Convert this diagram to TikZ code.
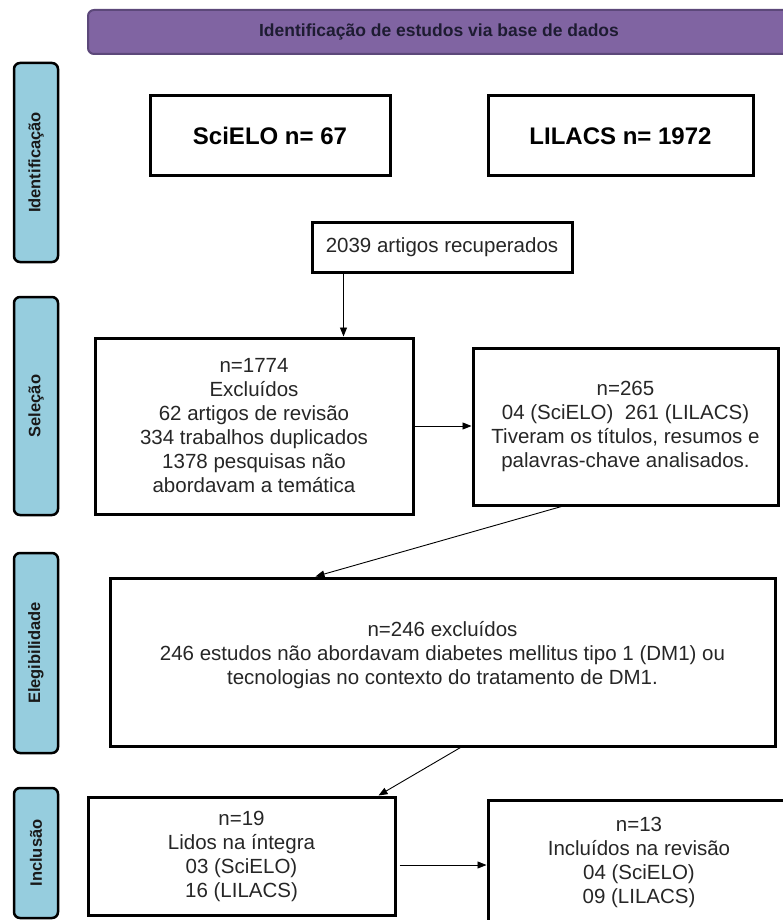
\documentclass[tikz,border=0pt]{standalone}
\usepackage{fontspec}
\setmainfont{Liberation Sans}
\usetikzlibrary{arrows.meta}

\definecolor{bannerfill}{RGB}{128,100,162}
\definecolor{bannerline}{RGB}{92,72,122}
\definecolor{bannertext}{RGB}{30,28,50}
\definecolor{phasefill}{RGB}{150,205,222}

\begin{document}
\begin{tikzpicture}[x=1pt,y=-1pt,
  box/.style={draw=black,line width=3pt,align=center,inner sep=0pt,text=black!85,
    font=\fontsize{20.5}{24}\selectfont},
  dbbox/.style={box,text=black,font=\bfseries\fontsize{24}{28}\selectfont},
  phase/.style={draw=black,line width=2.5pt,fill=phasefill,rounded corners=6pt,
    rotate=90,inner sep=0pt,minimum height=44pt,text=black!90,
    font=\bfseries\fontsize{16.5}{19}\selectfont},
  banner/.style={draw=bannerline,line width=2pt,fill=bannerfill,rounded corners=6pt,
    inner sep=0pt,text=bannertext,font=\bfseries\fontsize{17.5}{20}\selectfont},
  arr/.style={-{Triangle[length=9pt,width=7pt]},line width=0.9pt}]

  \useasboundingbox (0,0) rectangle (782,920);

  \node[banner, minimum width=702pt, minimum height=44pt] (head) at (439,32)
    {Identificação de estudos via base de dados};

  % fases
  \node[phase, minimum width=199pt] (idph) at (36,162.5) {Identificação};
  \node[phase, minimum width=218pt] (selph) at (36,406) {Seleção};
  \node[phase, minimum width=200pt] (elph) at (36,653) {Elegibilidade};
  \node[phase, minimum width=130pt] (incph) at (36,853) {Inclusão};

  % caixas
  \node[dbbox, minimum width=240pt, minimum height=80pt] (scielo) at (270,136) {SciELO n= 67};
  \node[dbbox, minimum width=265pt, minimum height=80pt] (lilacs) at (620.5,136) {LILACS n= 1972};

  \node[box, minimum width=260pt, minimum height=50pt] (rec) at (442,247) {2039 artigos recuperados};

  \node[box, minimum width=318pt, minimum height=176pt] (exc1) at (254,426)
    {n=1774\\ Excluídos\\ 62 artigos de revisão\\ 334 trabalhos duplicados\\
     1378 pesquisas não\\ abordavam a temática};
  \node[box, minimum width=305pt, minimum height=157pt] (sel) at (625.5,426.5)
    {n=265\\ 04 (SciELO)\ \ 261 (LILACS)\\ Tiveram os títulos, resumos e\\ palavras-chave analisados.};

  \node[box, minimum width=665pt, minimum height=168pt] (elig) at (442.5,662)
    {n=246 excluídos\\ 246 estudos não abordavam diabetes mellitus tipo 1 (DM1) ou\\
     tecnologias no contexto do tratamento de DM1.\\[-6pt]};

  \node[box, minimum width=307pt, minimum height=118pt] (lidos) at (241.5,856)
    {n=19\\ Lidos na íntegra\\ 03 (SciELO)\\ 16 (LILACS)};
  \node[box, minimum width=302pt, minimum height=125pt] (incl) at (639,862.5)
    {n=13\\ Incluídos na revisão\\ 04 (SciELO)\\ 09 (LILACS)};

  % setas
  \draw[arr] ([xshift=33pt]rec.south west) -- ([xshift=33pt]rec.south west |- exc1.north);
  \draw[arr] (exc1.east) -- (exc1.east -| sel.west);
  \draw[arr] ([xshift=90pt]sel.south west) -- ([xshift=207pt]elig.north west);
  \draw[arr] ([xshift=352pt]elig.south west) -- ([xshift=292pt]lidos.north west);
  \draw[arr] ([xshift=3pt,yshift=-9pt]lidos.east) -- ([yshift=-9pt]lidos.east -| incl.west);
\end{tikzpicture}
\end{document}
